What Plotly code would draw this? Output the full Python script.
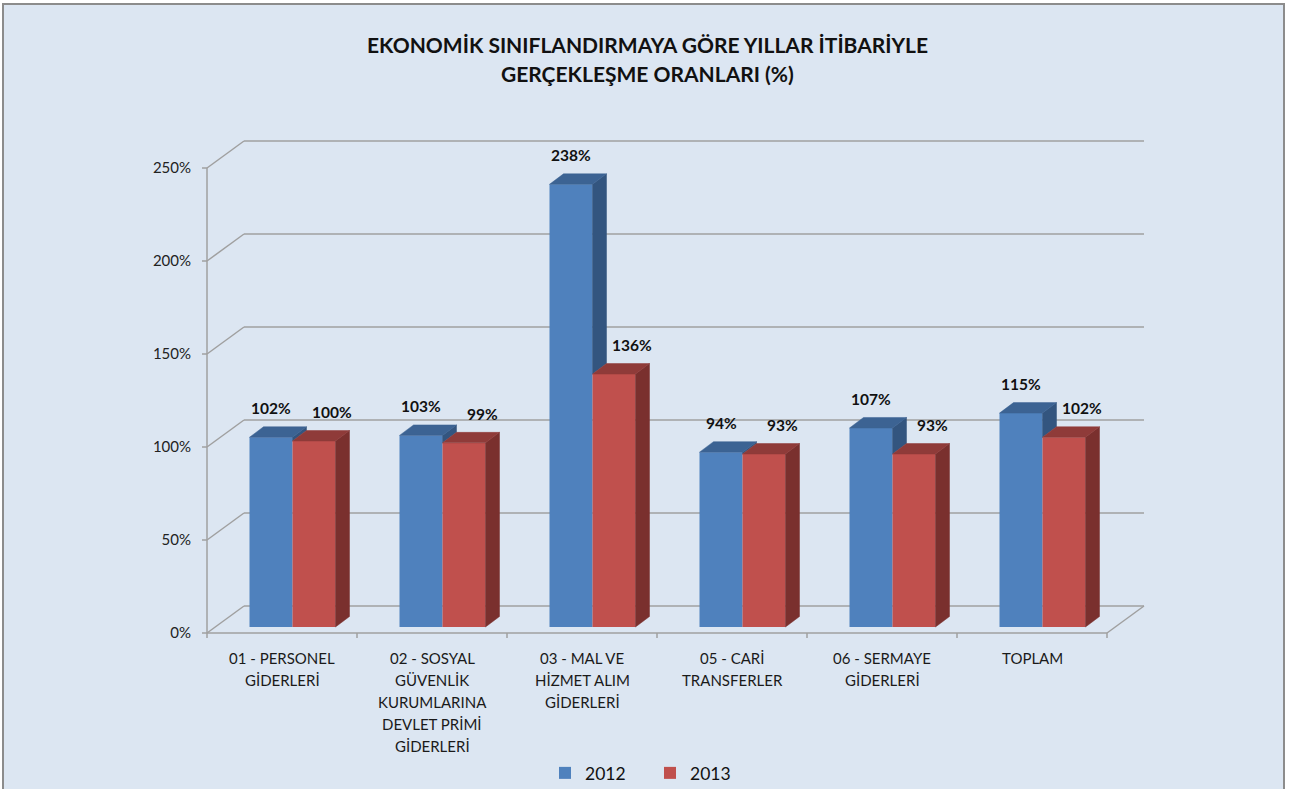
import plotly.graph_objects as go

# ---------------- data ----------------
categories = [
    "01 - PERSONEL<br>GİDERLERİ",
    "02 - SOSYAL<br>GÜVENLİK<br>KURUMLARINA<br>DEVLET PRİMİ<br>GİDERLERİ",
    "03 - MAL VE<br>HİZMET ALIM<br>GİDERLERİ",
    "05 - CARİ<br>TRANSFERLER",
    "06 - SERMAYE<br>GİDERLERİ",
    "TOPLAM",
]
values_2012 = [102, 103, 238, 94, 107, 115]
values_2013 = [100, 99, 136, 93, 93, 102]
series_names = ["2012", "2013"]
y_ticks = [0, 50, 100, 150, 200, 250]
y_tick_labels = ["0%", "50%", "100%", "150%", "200%", "250%"]
title_lines = ["EKONOMİK SINIFLANDIRMAYA GÖRE YILLAR İTİBARİYLE", "GERÇEKLEŞME ORANLARI (%)"]

# ---------------- geometry / style ----------------
W, H = 1290, 789
FONT = "Lato"
BG = "#DCE6F2"
GRID = "#A0A0A0"
BLUE, BLUE_TOP, BLUE_SIDE = "#4F81BD", "#3C6393", "#33557F"
RED, RED_TOP, RED_SIDE = "#C0504D", "#8F3B39", "#7A302E"

PX_CAT = 150.0          # pixels per category
PX_PCT = 1.86           # pixels per percent
AX_X0 = 207             # pixel of front y axis
AX_Y0 = 633             # pixel of front 0%
M_L, M_R, M_T, M_B = 192, 138, 130, 149

x_min = -0.5 - (AX_X0 - M_L) / PX_CAT
x_max = x_min + (W - M_L - M_R) / PX_CAT
y_min = -((H - M_B) - AX_Y0) / PX_PCT
y_max = (AX_Y0 - M_T) / PX_PCT

# wall depth
DX = 37 / PX_CAT
DZ = 27 / PX_PCT
# bar geometry
BASE = 6 / PX_PCT
BAR_W = 43 / PX_CAT
OFF_A = -32.5 / PX_CAT
OFF_B = OFF_A + BAR_W
BDX = 14 / PX_CAT
BDZ = 10.5 / PX_PCT

n = len(categories)
idx = list(range(n))


def px_to_paper_x(px):
    return (px - M_L) / (W - M_L - M_R)


def px_to_paper_y(py):
    return ((H - M_B) - py) / (H - M_T - M_B)


fig = go.Figure()

# front faces
fig.add_trace(go.Bar(x=idx, y=values_2012, base=BASE, width=BAR_W, offset=OFF_A,
                     marker=dict(color=BLUE, line=dict(width=0)), name=series_names[0],
                     hoverinfo="skip"))
fig.add_trace(go.Bar(x=idx, y=values_2013, base=BASE, width=BAR_W, offset=OFF_B,
                     marker=dict(color=RED, line=dict(width=0)), name=series_names[1],
                     hoverinfo="skip"))


def poly_trace(xs, ys, color):
    return go.Scatter(x=xs, y=ys, mode="lines", fill="toself", fillcolor=color,
                      line=dict(width=0.5, color=color), showlegend=False, hoverinfo="skip")


bt_x, bt_y, bs_x, bs_y, rt_x, rt_y, rs_x, rs_y = ([] for _ in range(8))
for i in idx:
    a0 = i + OFF_A
    a1 = a0 + BAR_W
    b1 = a1 + BAR_W
    bt = BASE + values_2012[i]
    rt = BASE + values_2013[i]
    # blue top
    bt_x += [a0, a1, a1 + BDX, a0 + BDX, a0, None]
    bt_y += [bt, bt, bt + BDZ, bt + BDZ, bt, None]
    # blue visible side (above red top)
    if bt > rt:
        low = max(BASE, rt)
        bs_x += [a1, a1, a1 + BDX, a1 + BDX, a1, None]
        bs_y += [low, bt, bt + BDZ, low + BDZ, low, None]
    # red top
    rt_x += [a1, b1, b1 + BDX, a1 + BDX, a1, None]
    rt_y += [rt, rt, rt + BDZ, rt + BDZ, rt, None]
    # red side
    rs_x += [b1, b1, b1 + BDX, b1 + BDX, b1, None]
    rs_y += [BASE, rt, rt + BDZ, BASE + BDZ, BASE, None]

fig.add_trace(poly_trace(bs_x, bs_y, BLUE_SIDE))
fig.add_trace(poly_trace(bt_x, bt_y, BLUE_TOP))
fig.add_trace(poly_trace(rs_x, rs_y, RED_SIDE))
fig.add_trace(poly_trace(rt_x, rt_y, RED_TOP))

shapes = []
# background panel with border
shapes.append(dict(type="rect", xref="paper", yref="paper",
                   x0=px_to_paper_x(3), x1=px_to_paper_x(1284),
                   y0=px_to_paper_y(H + 20), y1=px_to_paper_y(4),
                   fillcolor=BG, line=dict(color="#8C8C8C", width=2), layer="below"))
line_style = dict(color=GRID, width=1.5)
left, right = -0.5, n - 0.5
for v in y_ticks:
    # back wall gridline
    shapes.append(dict(type="line", xref="x", yref="y", x0=left + DX, x1=right + DX,
                       y0=v + DZ, y1=v + DZ, line=line_style, layer="below"))
    # side diagonal
    shapes.append(dict(type="line", xref="x", yref="y", x0=left, x1=left + DX,
                       y0=v, y1=v + DZ, line=line_style, layer="below"))
    # y tick mark
    shapes.append(dict(type="line", xref="x", yref="y", x0=left - 5 / PX_CAT, x1=left,
                       y0=v, y1=v, line=line_style, layer="below"))
# front y axis line
shapes.append(dict(type="line", xref="x", yref="y", x0=left, x1=left, y0=0, y1=y_ticks[-1],
                   line=line_style, layer="below"))
# floor front edge and right edge
shapes.append(dict(type="line", xref="x", yref="y", x0=left, x1=right, y0=0, y1=0,
                   line=line_style, layer="below"))
shapes.append(dict(type="line", xref="x", yref="y", x0=right, x1=right + DX, y0=0, y1=DZ,
                   line=line_style, layer="below"))
# x tick marks at category boundaries
for k in range(n + 1):
    xb = left + k
    shapes.append(dict(type="line", xref="x", yref="y", x0=xb, x1=xb, y0=0, y1=-5 / PX_PCT,
                       line=line_style, layer="below"))

annotations = []
# title
for j, t in enumerate(title_lines):
    annotations.append(dict(text=f"<b>{t}</b>", xref="paper", yref="paper",
                            x=px_to_paper_x(647), y=px_to_paper_y(45 + 29 * j),
                            xanchor="center", yanchor="middle", showarrow=False,
                            font=dict(family=FONT, size=21, color="#111")))
# category labels (one annotation per line)
for i, cat in enumerate(categories):
    for k, line in enumerate(cat.split("<br>")):
        annotations.append(dict(text=line, xref="x", yref="y", x=i, y=0,
                                yshift=-(25 + 22 * k), xanchor="center", yanchor="middle",
                                showarrow=False, font=dict(family=FONT, size=15, color="#1a1a1a")))
# data labels
for vals, dxp in ((values_2012, -11), (values_2013, 50)):
    for i, v in enumerate(vals):
        annotations.append(dict(text=f"<b>{v}%</b>", xref="x", yref="y", x=i + dxp / PX_CAT,
                                y=BASE + v, yshift=29, xanchor="center", yanchor="middle",
                                showarrow=False, font=dict(family=FONT, size=15.5, color="#111")))

fig.update_layout(
    width=W, height=H,
    margin=dict(l=M_L, r=M_R, t=M_T, b=M_B, autoexpand=False),
    paper_bgcolor="white", plot_bgcolor="rgba(0,0,0,0)",
    barmode="overlay",
    xaxis=dict(range=[x_min, x_max], showticklabels=False, showgrid=False, zeroline=False,
               showline=False, ticks="", fixedrange=True),
    yaxis=dict(range=[y_min, y_max], tickvals=y_ticks, ticktext=y_tick_labels,
               showgrid=False, zeroline=False, showline=False, ticks="",
               tickfont=dict(family=FONT, size=15, color="#222"), fixedrange=True),
    legend=dict(orientation="h", xref="container", yref="container",
                x=650 / W, y=1 - 773 / H, xanchor="center", yanchor="middle",
                font=dict(family=FONT, size=17.5, color="#111"), bgcolor="rgba(0,0,0,0)",
                itemwidth=30, entrywidth=60, entrywidthmode="pixels", traceorder="normal"),
    shapes=shapes, annotations=annotations,
    showlegend=True,
)

fig.write_html("out.html", config={"displayModeBar": False},
               post_script="document.body.style.margin='0';")
